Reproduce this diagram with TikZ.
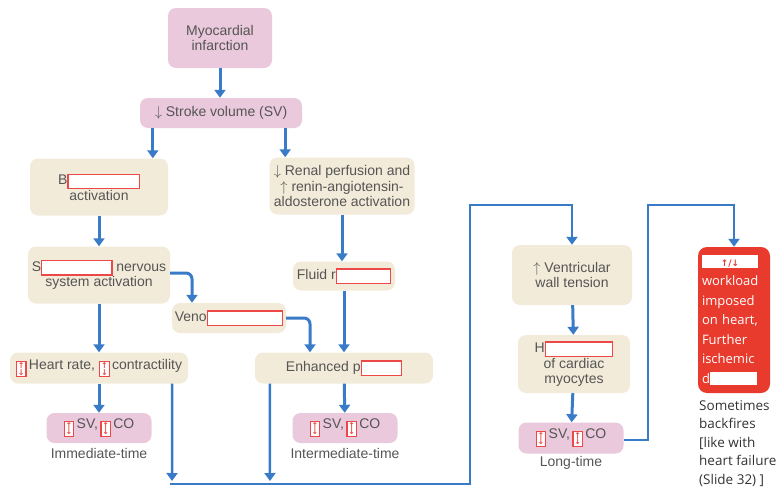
\documentclass[tikz,border=0pt]{standalone}
\usepackage{fontspec}
\setmainfont{Liberation Sans}
\newfontfamily\notefont{Open Sans}
\newfontfamily\arrowfont{DejaVu Sans}
\usetikzlibrary{arrows.meta}

\definecolor{pinkfill}{RGB}{233,201,219}
\definecolor{beigefill}{RGB}{243,235,218}
\definecolor{flowblue}{RGB}{58,123,200}
\definecolor{alarmred}{RGB}{232,59,46}
\definecolor{blankred}{RGB}{236,72,72}
\definecolor{textgray}{RGB}{85,85,85}

% fill-in blank and up/down marker
\newcommand{\gap}[1]{{\setlength{\fboxsep}{0pt}\setlength{\fboxrule}{1.2pt}%
  \fcolorbox{blankred}{white}{\rule[-3pt]{0pt}{13pt}\hspace{#1}}}}
\newcommand{\updn}{{\setlength{\fboxsep}{0.8pt}\setlength{\fboxrule}{1.2pt}%
  \raisebox{-6pt}{\fcolorbox{blankred}{white}{\color{blankred}\arrowfont\bfseries\fontsize{8}{8}\selectfont
  \vbox{\hbox{↑}\kern-1.5pt\hbox{↓}}}}}}

\begin{document}
\begin{tikzpicture}[x=1pt,y=-1pt]
    \tikzstyle{every node}=[font=\fontsize{14}{15.5}\selectfont, text=textgray]
    \tikzstyle{pinknode}=[fill=pinkfill, rounded corners=8pt, align=center, inner sep=0pt]
    \tikzstyle{beigenode}=[fill=beigefill, rounded corners=8pt, align=center, inner sep=0pt]
    \tikzstyle{flow}=[draw=flowblue, line width=3pt, -{Triangle[width=11pt,length=8pt]}]
    \tikzstyle{route}=[draw=flowblue, line width=2.5pt, -{Triangle[width=11pt,length=8pt]}]
    \useasboundingbox (0,0) rectangle (780,493);

    % boxes
    \node[pinknode, minimum width=104pt, minimum height=60pt] (mi) at (220,38) {Myocardial\\infarction};
    \node[pinknode, minimum width=162pt, minimum height=30pt] (sv) at (221,113) {$\downarrow$ Stroke volume (SV)};
    \node[beigenode, minimum width=138pt, minimum height=57pt] (baro) at (99,187) {B\gap{70pt}\\activation};
    \node[beigenode, minimum width=145pt, minimum height=57pt] (renal) at (342,186)
        {$\downarrow$ Renal perfusion and\\$\uparrow$ renin-angiotensin-\\aldosterone activation};
    \node[beigenode, minimum width=142pt, minimum height=57pt] (symp) at (99,275) {S\gap{69pt} nervous\\system activation};
    \node[beigenode, minimum width=102pt, minimum height=29pt] (fluid) at (344,276) {Fluid r\gap{53pt}};
    \node[beigenode, minimum width=114pt, minimum height=30pt] (veno) at (229,318) {Veno\gap{74pt}};
    \node[beigenode, minimum width=178pt, minimum height=31pt] (hr) at (99,368) {\updn\,Heart rate, \updn\,contractility};
    \node[beigenode, minimum width=178pt, minimum height=31pt] (enh) at (344,368) {Enhanced p\gap{39pt}};
    \node[pinknode, minimum width=105pt, minimum height=30pt] (co1) at (99,428) {\updn\,SV,\,\updn\,CO};
    \node[pinknode, minimum width=105pt, minimum height=30pt] (co2) at (345,428) {\updn\,SV,\,\updn\,CO};
    \node[beigenode, minimum width=120pt, minimum height=60pt] (vent) at (572,275) {$\uparrow$ Ventricular\\wall tension};
    \node[beigenode, minimum width=112pt, minimum height=58pt] (hyper) at (574,364) {H\gap{66pt}\\of cardiac\\myocytes};
    \node[pinknode, minimum width=105pt, minimum height=31pt] (co3) at (571,438) {\updn\,SV,\,\updn\,CO};
    \node[fill=alarmred, rounded corners=9pt, minimum height=146pt, text width=64pt, inner xsep=4pt,
          align=left, text=white, font=\notefont\fontsize{13}{19.5}\selectfont] (load) at (734,320)
        {{\setlength{\fboxsep}{0pt}\colorbox{white}{\makebox[56pt]{\rule[-2pt]{0pt}{13pt}\textcolor{alarmred}{\arrowfont\bfseries\fontsize{9}{9}\selectfont ↑/↓}}}}\\
         workload\\imposed\\on heart,\\Further\\ischemic\\d{\setlength{\fboxsep}{0pt}\colorbox{white}{\rule[-2pt]{0pt}{13pt}\hspace{47pt}}}};

    % labels
    \node (imm) at (99,453) {Immediate-time};
    \node (inter) at (345,453) {Intermediate-time};
    \node (long) at (571,463) {Long-time};
    \node[anchor=north west, align=left, inner sep=0pt, text=black!80,
          font=\notefont\fontsize{13.5}{18.5}\selectfont] (note) at (699,400)
        {Sometimes\\backfires\\{[}like with\\heart failure\\(Slide 32) ]};

    % corners of the long routes
    \coordinate (j1) at (172,481);
    \coordinate (j2) at (270,481);
    \coordinate (bl) at (170,484);
    \coordinate (tl) at (470,205);
    \coordinate (tr) at (648,205);

    % arrows
    \draw[flow] (mi.south) -- (mi.south |- sv.north);
    \draw[flow] ([xshift=13pt]sv.south west) -- ([xshift=13pt]sv.south west |- baro.north);
    \draw[flow] ([xshift=-17pt]sv.south east) -- ([xshift=-17pt]sv.south east |- renal.north);
    \draw[flow] (baro) -- (symp);
    \draw[flow] (renal.south) -- (fluid.north -| renal.south);
    \draw[flow, rounded corners=6pt] ([yshift=2pt]symp.east) -| ([xshift=-37pt]veno.north);
    \draw[flow, rounded corners=6pt] (veno.east) -| ([xshift=-34pt]enh.north);
    \draw[flow] (fluid) -- (enh);
    \draw[flow] (symp) -- (hr);
    \draw[flow] (hr) -- (co1);
    \draw[flow] (enh) -- (co2);
    \draw[flow] (vent) -- (hyper);
    \draw[flow] (hyper) -- (co3);
    \draw[route] ([xshift=-16pt]hr.south east) -- (j1);
    \draw[route] ([xshift=15pt]enh.south west) -- (j2);
    \draw[route] (bl) -| (tl) -| (vent.north);
    \draw[route] ([yshift=-2pt]co3.east) -| (tr) -| (load.north);
\end{tikzpicture}
\end{document}
